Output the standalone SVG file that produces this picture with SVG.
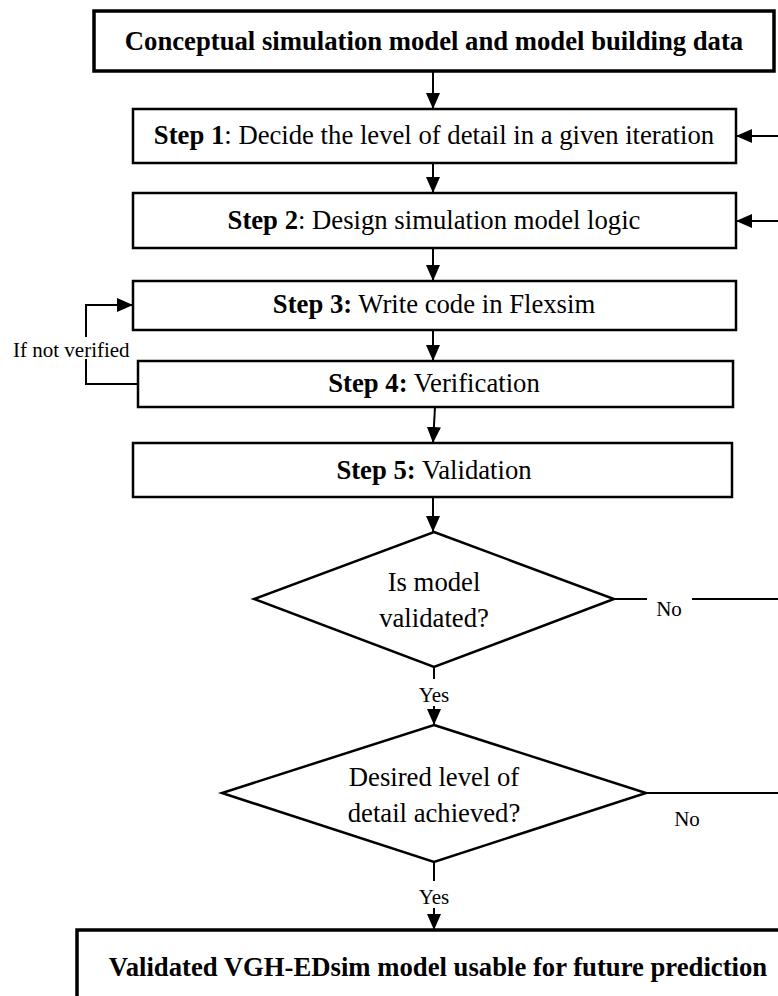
<svg xmlns="http://www.w3.org/2000/svg" width="778" height="996" viewBox="0 0 778 996">
  <style>
    .box { fill: #fff; stroke: #000; stroke-width: 2.5; }
    .heavy { fill: #fff; stroke: #000; stroke-width: 3.5; }
    .dia { fill: #fff; stroke: #000; stroke-width: 2.5; }
    .wire { fill: none; stroke: #000; stroke-width: 2; }
    text { font-family: "Liberation Serif", "Times New Roman", serif; fill: #000; }
    .t { font-size: 26.7px; text-anchor: middle; }
    .tb { font-size: 26.7px; font-weight: bold; text-anchor: middle; }
    .lbl { font-size: 21px; }
    .b { font-weight: bold; }
  </style>
  <defs>
    <marker id="arrow" viewBox="0 0 16 14" refX="16" refY="7" markerWidth="16" markerHeight="14" markerUnits="userSpaceOnUse" orient="auto">
      <path d="M0,0 L16,7 L0,14 Z" fill="#000"/>
    </marker>
  </defs>

  <rect width="778" height="996" fill="#fff"/>

  <!-- connectors -->
  <g id="connectors">
    <line class="wire" x1="433" y1="71" x2="433" y2="109" marker-end="url(#arrow)"/>
    <line class="wire" x1="433" y1="163" x2="433" y2="193" marker-end="url(#arrow)"/>
    <line class="wire" x1="433" y1="248" x2="433" y2="281" marker-end="url(#arrow)"/>
    <line class="wire" x1="433" y1="330" x2="433" y2="361" marker-end="url(#arrow)"/>
    <line class="wire" x1="435" y1="407" x2="433" y2="443" marker-end="url(#arrow)"/>
    <line class="wire" x1="433" y1="497" x2="433" y2="532" marker-end="url(#arrow)"/>
    <!-- feedback into steps 1 and 2 -->
    <line class="wire" x1="778" y1="136" x2="736" y2="136" marker-end="url(#arrow)"/>
    <line class="wire" x1="778" y1="221" x2="736" y2="221" marker-end="url(#arrow)"/>
    <!-- verification loop -->
    <polyline class="wire" points="138,384 86,384 86,359"/>
    <polyline class="wire" points="86,337 86,305 133,305" marker-end="url(#arrow)"/>
    <text class="lbl" x="13" y="357">If not verified</text>
    <!-- validation outcome -->
    <line class="wire" x1="614" y1="599" x2="647" y2="599"/>
    <line class="wire" x1="692" y1="599" x2="778" y2="599"/>
    <text class="lbl" x="669" y="616" text-anchor="middle">No</text>
    <line class="wire" x1="434" y1="667" x2="434" y2="679"/>
    <text class="lbl" x="434" y="702" text-anchor="middle">Yes</text>
    <line class="wire" x1="434" y1="706" x2="434" y2="725" marker-end="url(#arrow)"/>
    <!-- detail outcome -->
    <line class="wire" x1="646" y1="793" x2="778" y2="793"/>
    <text class="lbl" x="687" y="826" text-anchor="middle">No</text>
    <line class="wire" x1="434" y1="862" x2="434" y2="881"/>
    <text class="lbl" x="434" y="904" text-anchor="middle">Yes</text>
    <line class="wire" x1="434" y1="908" x2="434" y2="930" marker-end="url(#arrow)"/>
  </g>

  <g id="source">
    <rect class="heavy" x="94" y="11" width="680" height="60"/>
    <text class="tb" x="434" y="50">Conceptual simulation model and model building data</text>
  </g>
  <g id="step1">
    <rect class="box" x="133" y="109" width="603" height="54"/>
    <text class="t" x="434" y="144"><tspan class="b">Step 1</tspan>: Decide the level of detail in a given iteration</text>
  </g>
  <g id="step2">
    <rect class="box" x="133" y="193" width="603" height="55"/>
    <text class="t" x="434" y="229"><tspan class="b">Step 2</tspan>: Design simulation model logic</text>
  </g>
  <g id="step3">
    <rect class="box" x="133" y="281" width="603" height="49"/>
    <text class="t" x="434" y="313"><tspan class="b">Step 3:</tspan> Write code in Flexsim</text>
  </g>
  <g id="step4">
    <rect class="box" x="138" y="361" width="595" height="46"/>
    <text class="t" x="434" y="392"><tspan class="b">Step 4:</tspan> Verification</text>
  </g>
  <g id="step5">
    <rect class="box" x="133" y="443" width="599" height="54"/>
    <text class="t" x="434" y="479"><tspan class="b">Step 5:</tspan> Validation</text>
  </g>
  <g id="validated">
    <polygon class="dia" points="434,532 614,599 434,667 254,599"/>
    <text class="t" x="434" y="591">Is model</text>
    <text class="t" x="434" y="627">validated?</text>
  </g>
  <g id="detail">
    <polygon class="dia" points="434,725 646,793 434,862 222,793"/>
    <text class="t" x="434" y="786">Desired level of</text>
    <text class="t" x="434" y="822">detail achieved?</text>
  </g>
  <g id="result">
    <rect class="heavy" x="77" y="930" width="720" height="90"/>
    <text class="tb" x="438" y="976">Validated VGH-EDsim model usable for future prediction</text>
  </g>
</svg>
